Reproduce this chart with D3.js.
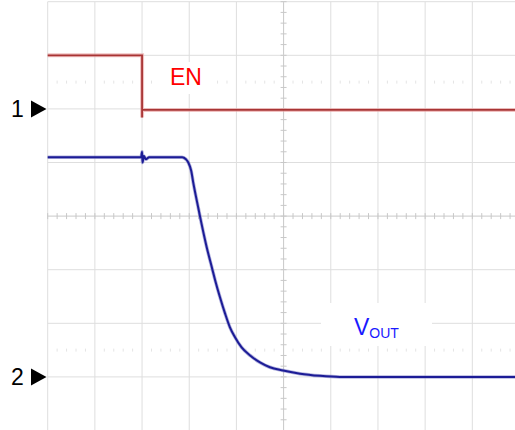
<!DOCTYPE html>
<html>
<head>
<meta charset="utf-8">
<script src="https://cdn.jsdelivr.net/npm/d3@7"></script>
<style>
  body { margin: 0; background: #fff; }
  svg { display: block; font-family: Arial, "Liberation Sans", sans-serif; }
</style>
</head>
<body>
<svg id="scope" width="515" height="430"></svg>
<script>
// time in divisions (0..10), level in divisions above each channel's ground marker
const enTime = [0, 1.0, 1.99, 2.0, 2.0, 2.0, 2.02, 5.0, 10]
const enLevel = [1.0, 1.0, 1.0, 1.0, -0.16, -0.02, -0.02, -0.02, -0.02]

const voutTime = [0, 1.0, 1.98, 2.0, 2.01, 2.04, 2.08, 2.15, 2.4, 2.85, 2.93, 2.98, 3.04, 3.09, 3.19, 3.26, 3.37, 3.48, 3.55, 3.65, 3.76, 3.86, 3.97, 4.11, 4.29, 4.5, 4.71, 4.99, 5.35, 5.77, 6.19, 8.0, 10]
const voutLevel = [4.1, 4.1, 4.1, 4.2, 4.0, 4.12, 4.06, 4.1, 4.1, 4.1, 4.06, 4.0, 3.85, 3.6, 3.16, 2.86, 2.42, 2.04, 1.8, 1.49, 1.18, 0.93, 0.74, 0.55, 0.4, 0.27, 0.18, 0.12, 0.06, 0.02, 0.0, 0.0, 0.0]

const channels = [
  { id: '1', offset: 2 },
  { id: '2', offset: -3 }
]

const svg = d3.select('#scope')

const x = d3.scaleLinear().domain([0, 10]).range([47.7, 519.5])
const y = d3.scaleLinear().domain([-4, 4]).range([430.5, 1.7])

// grid
const grid = svg.append('g')

grid.selectAll('line.v')
  .data(d3.range(0, 11))
  .enter()
  .append('line')
  .attr('x1', d => x(d)).attr('x2', d => x(d))
  .attr('y1', y(4)).attr('y2', y(-4))
  .attr('stroke', d => d === 5 ? '#c8c8c8' : '#dedede')
  .attr('stroke-width', 1)

grid.selectAll('line.h')
  .data(d3.range(-4, 5))
  .enter()
  .append('line')
  .attr('x1', x(0)).attr('x2', x(10))
  .attr('y1', d => y(d)).attr('y2', d => y(d))
  .attr('stroke', d => d === 0 ? '#c8c8c8' : '#dedede')
  .attr('stroke-width', 1)

// minor ticks on centre axes
const minorX = d3.range(0, 10.01, 0.2)
const minorY = d3.range(-4, 4.01, 0.2)

grid.selectAll('line.tx')
  .data(minorX)
  .enter()
  .append('line')
  .attr('x1', d => x(d)).attr('x2', d => x(d))
  .attr('y1', y(0) - 3).attr('y2', y(0) + 3)
  .attr('stroke', '#c8c8c8')

grid.selectAll('line.ty')
  .data(minorY)
  .enter()
  .append('line')
  .attr('x1', x(5) - 3).attr('x2', x(5) + 3)
  .attr('y1', d => y(d)).attr('y2', d => y(d))
  .attr('stroke', '#c8c8c8')

// faint dotted rows
;[2.5, -2.5].forEach(row => {
  grid.selectAll(null)
    .data(minorX.filter((d, i) => i % 5 !== 0))
    .enter()
    .append('line')
    .attr('x1', d => x(d)).attr('x2', d => x(d))
    .attr('y1', y(row) - 1.5).attr('y2', y(row) + 1.5)
    .attr('stroke', '#e4e4e4')
})

// label backgrounds
svg.append('rect').attr('x', 321).attr('y', 303).attr('width', 111).attr('height', 43).attr('fill', '#fff')
svg.append('rect').attr('x', 160).attr('y', 62).attr('width', 52).attr('height', 32).attr('fill', '#fff')

// traces
const line = offset => d3.line()
  .x(d => x(d[0]))
  .y(d => y(d[1] + offset))

const enData = enTime.map((t, i) => [t, enLevel[i]])
const voutData = voutTime.map((t, i) => [t, voutLevel[i]])

const traces = svg.append('g')

traces.append('path')
  .datum(enData)
  .attr('d', line(channels[0].offset))
  .attr('fill', 'none')
  .attr('stroke', '#e89a9a')
  .attr('stroke-width', 4)
  .attr('opacity', 0.6)

traces.append('path')
  .datum(enData)
  .attr('d', line(channels[0].offset))
  .attr('fill', 'none')
  .attr('stroke', '#a83434')
  .attr('stroke-width', 1.8)

traces.append('path')
  .datum(voutData)
  .attr('d', line(channels[1].offset).curve(d3.curveMonotoneX))
  .attr('fill', 'none')
  .attr('stroke', '#8080c8')
  .attr('stroke-width', 3.5)
  .attr('opacity', 0.6)

traces.append('path')
  .datum(voutData)
  .attr('d', line(channels[1].offset).curve(d3.curveMonotoneX))
  .attr('fill', 'none')
  .attr('stroke', '#1c1c96')
  .attr('stroke-width', 2)

// labels
svg.append('text')
  .attr('x', 170).attr('y', 85)
  .attr('font-size', 23)
  .attr('fill', '#ff0000')
  .text('EN')

const vout = svg.append('text')
  .attr('x', 354).attr('y', 335)
  .attr('font-size', 23)
  .attr('fill', '#1a1aff')
vout.append('tspan').text('V')
vout.append('tspan').attr('font-size', 14).attr('dy', 3).text('OUT')

// channel markers
const markers = svg.append('g')
  .selectAll('g')
  .data(channels)
  .enter()
  .append('g')
  .attr('transform', d => `translate(0, ${y(d.offset)})`)

markers.append('text')
  .attr('x', 11).attr('y', 8.5)
  .attr('font-size', 23)
  .attr('fill', '#000')
  .text(d => d.id)

markers.append('path')
  .attr('d', 'M31,-8.5 L46.5,0 L31,8.5 Z')
  .attr('fill', '#000')
</script>
</body>
</html>
